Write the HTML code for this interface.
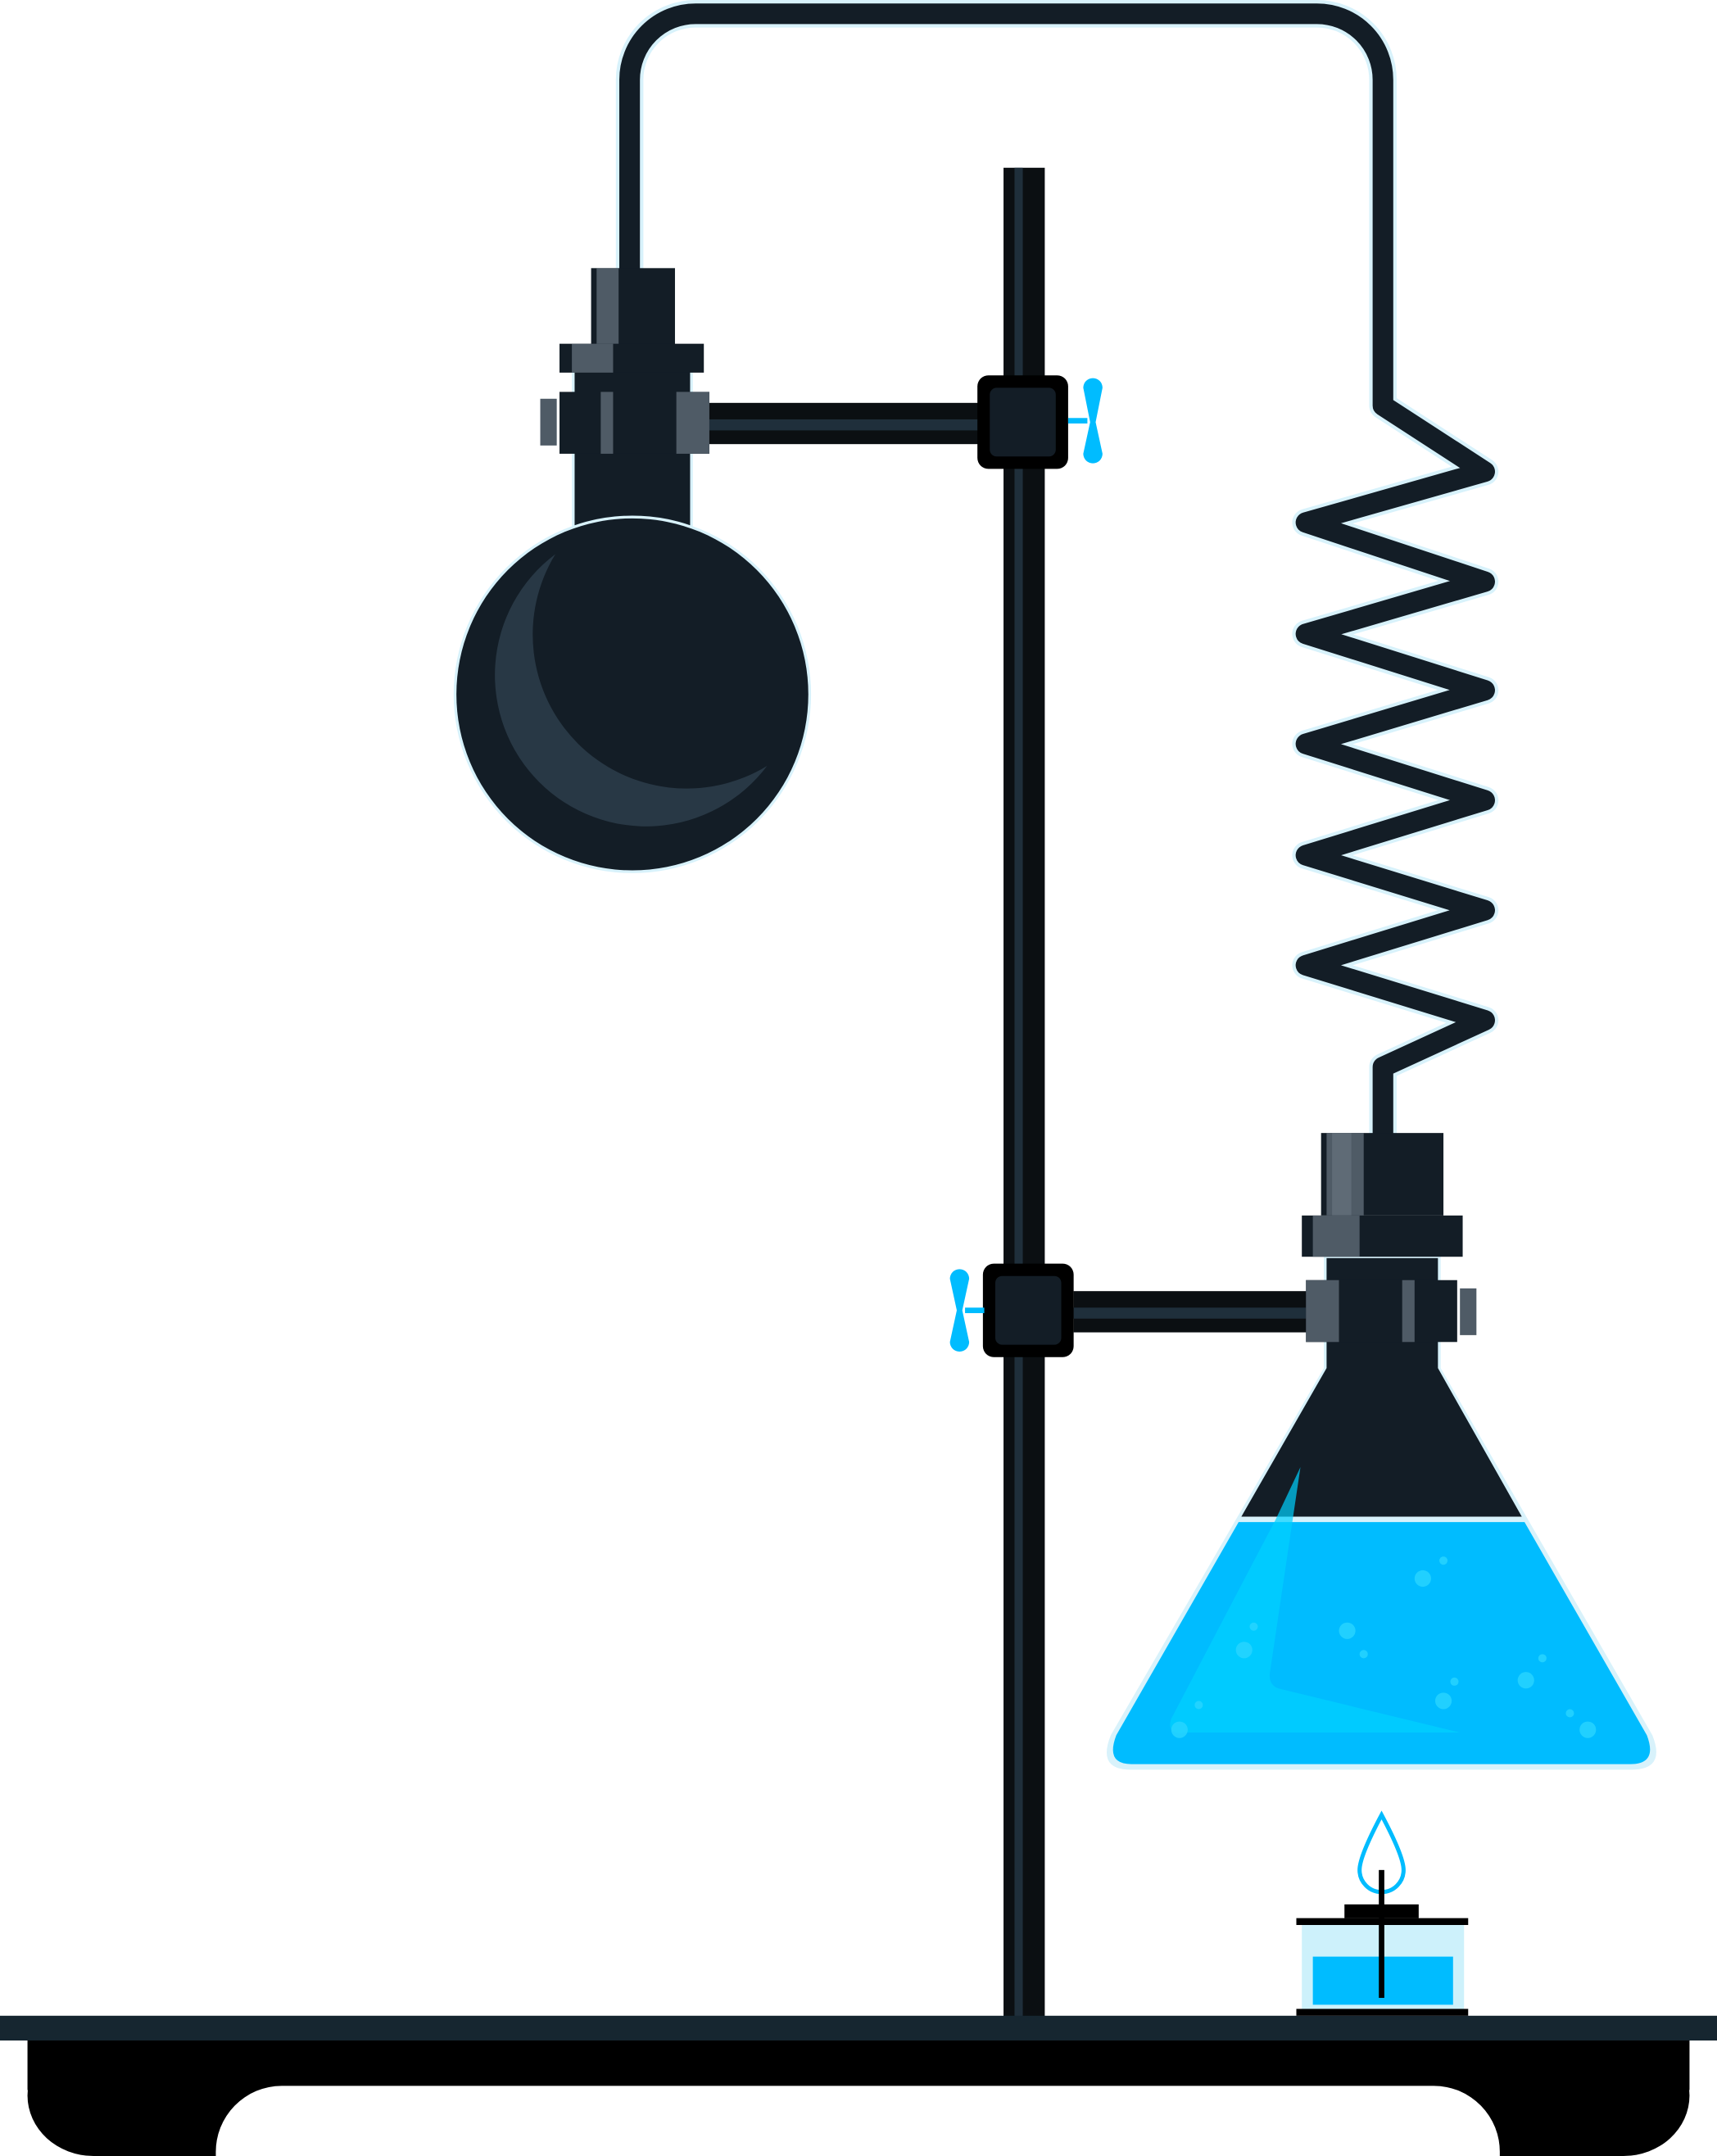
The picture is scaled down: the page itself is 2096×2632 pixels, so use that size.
<!DOCTYPE html>
<html><head><meta charset="utf-8"><style>
html,body{margin:0;padding:0;background:#fff;width:2096px;height:2632px;overflow:hidden}
svg{display:block}
</style></head><body>
<svg width="2096" height="2632" viewBox="0 0 1249 1568" preserveAspectRatio="none" xmlns="http://www.w3.org/2000/svg">
<!-- tube -->
<g fill="none" stroke-linejoin="round" stroke-linecap="round">
<path d="M458,200 V58 A48,48 0 0 1 506,10 H958 A48,48 0 0 1 1006,58 V295 L1080,343 L950,380 L1080,423 L950,461 L1080,502 L950,541 L1080,582 L950,622 L1080,662 L950,702 L1080,742 L1006,776 V828" stroke="#d8f2fb" stroke-width="20"/>
<path d="M458,200 V58 A48,48 0 0 1 506,10 H958 A48,48 0 0 1 1006,58 V295 L1080,343 L950,380 L1080,423 L950,461 L1080,502 L950,541 L1080,582 L950,622 L1080,662 L950,702 L1080,742 L1006,776 V828" stroke="#131d26" stroke-width="15"/>
</g>
<!-- stand rod -->
<rect x="730" y="122" width="30" height="1348" fill="#0b0f12"/>
<rect x="738" y="122" width="6" height="1348" fill="#1f2f3b"/>
<!-- base -->
<rect x="20" y="1480" width="1209" height="88" rx="48" fill="#000"/>
<rect x="20" y="1480" width="1209" height="40" fill="#000"/>
<path d="M157,1568 V1566 A48,48 0 0 1 205,1517 H1043 A48,48 0 0 1 1091,1566 V1568 Z" fill="#fff"/>
<rect x="0" y="1466" width="1249" height="18" fill="#162630"/>

<!-- upper clamp bar -->
<rect x="500" y="293" width="215" height="30" fill="#0b0f12"/>
<rect x="500" y="305" width="215" height="8" fill="#1f2f3b"/>
<!-- round flask -->
<rect x="416" y="268" width="88" height="120" fill="#d8f2fb"/>
<rect x="418" y="270" width="84" height="118" fill="#131d26"/>
<circle cx="460" cy="505" r="130" fill="#d8f2fb"/>
<circle cx="460" cy="505" r="128" fill="#131d26"/>
<path d="M404,403 A110,110 0 1 0 558,557 A112,112 0 0 1 404,403 Z" fill="#283845"/>
<rect x="430" y="195" width="61" height="56" fill="#131d26"/>
<rect x="434" y="195" width="16" height="56" fill="#4f5b66"/>
<rect x="407" y="250" width="105" height="21" fill="#131d26"/>
<rect x="416" y="250" width="30" height="21" fill="#4f5b66"/>
<rect x="407" y="285" width="109" height="45" fill="#131d26"/>
<rect x="437" y="285" width="9" height="45" fill="#4f5b66"/>
<rect x="492" y="285" width="24" height="45" fill="#4f5b66"/>
<rect x="393" y="290" width="12" height="34" fill="#4f5b66"/>
<!-- upper clamp block -->
<rect x="711" y="273" width="66" height="68" rx="8" fill="#000"/>
<rect x="720" y="282" width="48" height="50" rx="5" fill="#131d26"/>
<rect x="777" y="304" width="14" height="4" fill="#00bcff"/>
<path d="M788,282 A7,7 0 0 1 802,282 L797,307 L802,330 A7,7 0 0 1 788,330 L793,307 Z" fill="#00bcff"/>

<!-- lower clamp -->
<rect x="781" y="939" width="174" height="30" fill="#0b0f12"/>
<rect x="781" y="951" width="174" height="8" fill="#1f2f3b"/>
<rect x="715" y="919" width="66" height="68" rx="8" fill="#000"/>
<rect x="724" y="928" width="48" height="50" rx="5" fill="#131d26"/>
<rect x="702" y="951" width="14" height="4" fill="#00bcff"/>
<path d="M691,930 A7,7 0 0 1 705,930 L700,953 L705,976 A7,7 0 0 1 691,976 L696,953 Z" fill="#00bcff"/>

<!-- erlenmeyer -->
<path d="M963,913 H1048 V995 L1202,1262 Q1212,1287 1187,1287 H822 Q798,1287 808,1262 L963,995 Z" fill="#d8f2fb"/>
<path d="M965,915 H1046 V995 L1107,1103 H903 L965,995 Z" fill="#131d26"/>
<path d="M901,1107 H1109 L1198,1262 Q1206,1283 1186,1283 H823 Q804,1283 812,1262 Z" fill="#00bcff"/>
<path d="M946,1067 L928,1105 L852,1250 Q848,1262 862,1260 H1062 L930,1228 Q922,1225 924,1215 Z" fill="#00d2ff" opacity="0.7"/>
<g fill="#2ad6ff" opacity="0.8">
<circle cx="1035" cy="1148" r="6"/><circle cx="980" cy="1186" r="6"/><circle cx="1050" cy="1237" r="6"/><circle cx="1110" cy="1222" r="6"/><circle cx="1155" cy="1258" r="6"/><circle cx="905" cy="1200" r="6"/><circle cx="858" cy="1258" r="6"/>
<circle cx="1050" cy="1135" r="3"/><circle cx="992" cy="1203" r="3"/><circle cx="1122" cy="1206" r="3"/><circle cx="1142" cy="1246" r="3"/><circle cx="912" cy="1183" r="3"/><circle cx="872" cy="1240" r="3"/><circle cx="1058" cy="1223" r="3"/>
</g>
<rect x="961" y="824" width="89" height="60" fill="#131d26"/>
<rect x="965" y="824" width="27" height="60" fill="#4f5b66"/>
<rect x="969" y="824" width="14" height="60" fill="#5f6b76"/>
<rect x="947" y="884" width="117" height="30" fill="#131d26"/>
<rect x="955" y="884" width="34" height="30" fill="#4f5b66"/>
<rect x="950" y="931" width="110" height="45" fill="#131d26"/>
<rect x="950" y="931" width="24" height="45" fill="#4f5b66"/>
<rect x="1020" y="931" width="9" height="45" fill="#4f5b66"/>
<rect x="1062" y="937" width="12" height="34" fill="#4f5b66"/>

<!-- burner -->
<path d="M1005,1320 Q1021,1350 1021,1360 A16,16 0 0 1 989,1360 Q989,1350 1005,1320 Z" fill="none" stroke="#00bcff" stroke-width="3"/>
<rect x="978" y="1385" width="54" height="10" fill="#000"/>
<rect x="943" y="1395" width="125" height="5" fill="#000"/>
<rect x="947" y="1400" width="118" height="61" fill="#cdf1fb"/>
<rect x="955" y="1423" width="102" height="35" fill="#00bcff"/>
<rect x="943" y="1461" width="125" height="5" fill="#000"/>
<rect x="1003" y="1360" width="4" height="93" fill="#000"/>
</svg>
</body></html>
